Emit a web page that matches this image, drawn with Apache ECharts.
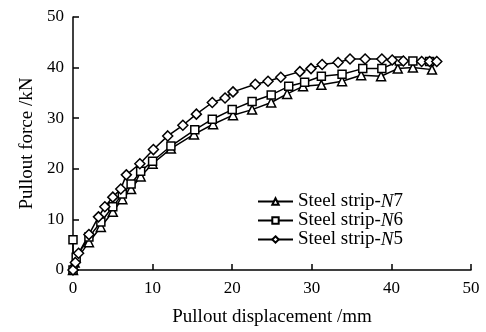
<!DOCTYPE html>
<html><head><meta charset="utf-8">
<script src="https://cdn.jsdelivr.net/npm/echarts@6/dist/echarts.min.js"></script>
<style>html,body{margin:0;padding:0;background:#fff}#c{width:486px;height:332px}</style>
</head><body><div id="c"></div>
<script>
var n7x=[0,0.2,2,3.5,5,6.2,7.3,8.5,10,12.3,15.2,17.6,20.1,22.5,24.9,26.9,28.9,31.2,33.8,36.2,38.7,40.8,42.7,45.1];
var n7y=[0,1.5,5.5,8.5,11.5,14,16,18.5,21,24,26.8,28.8,30.6,31.7,33.1,34.8,36.3,36.6,37.3,38.5,38.3,39.8,40,39.6];
var n6x=[0,0,0.4,2,3.5,5,6.2,7.3,8.5,10,12.3,15.3,17.5,20,22.5,24.9,27.1,29.1,31.2,33.8,36.4,38.8,41,42.7,44.8];
var n6y=[6,0,2.5,6.5,9.5,12.5,15,17,19.5,21.5,24.5,27.7,29.8,31.7,33.3,34.6,36.3,37.1,38.3,38.7,39.8,39.8,41.3,41.3,41.2];
var n5x=[0,0.3,0.7,2,3.2,4,5,6,6.7,8.4,10.1,11.9,13.8,15.5,17.5,19.1,20.1,22.9,24.5,26.1,28.5,29.9,31.3,33.3,34.8,36.7,38.8,40.1,41.5,43.8,44.8,45.7];
var n5y=[0,1.5,3.3,7,10.5,12.5,14.4,16,18.8,21,23.8,26.5,28.6,30.8,33.1,34,35.2,36.7,37.3,38.1,39.2,39.8,40.6,41,41.7,41.7,41.7,41.5,41.3,41.2,41.2,41.2];
var names=['Steel strip-N7','Steel strip-N6','Steel strip-N5'];
var xTicks=[0,10,20,30,40,50];
var yTicks=[0,10,20,30,40,50];

function pairs(xs,ys){return xs.map(function(x,i){return [x,ys[i]];});}
var font='"Liberation Serif","Times New Roman",serif';
function mk(name,xs,ys,sym,sz){
  return {name:name,type:'line',data:pairs(xs,ys),symbol:sym,symbolSize:sz,
    showAllSymbol:true,
    lineStyle:{color:'#000',width:1.5},
    itemStyle:{color:'#fff',borderColor:'#000',borderWidth:1.5},
    emphasis:{disabled:true},animation:false};
}
var chart=echarts.init(document.getElementById('c'),null,{renderer:'canvas'});
chart.setOption({
  animation:false,
  grid:{left:73,right:15,top:17,bottom:55},
  legend:{orient:'vertical',left:257,top:192,padding:0,itemGap:0,itemWidth:35,itemHeight:8,
    data:names,
    formatter:function(n){var p=n.split('-');return p[0]+'-{i|'+p[1].charAt(0)+'}'+p[1].slice(1);},
    textStyle:{fontFamily:font,fontSize:19,lineHeight:18,color:'#000',
      rich:{i:{fontFamily:font,fontSize:19,lineHeight:18,fontStyle:'italic',color:'#000'}}}},
  xAxis:{type:'value',min:0,max:50,interval:10,
    name:'Pullout displacement /mm',nameLocation:'middle',nameGap:38,
    nameTextStyle:{fontFamily:font,fontSize:19,color:'#000'},
    axisLine:{lineStyle:{color:'#000',width:1.5}},
    axisTick:{inside:true,length:6,lineStyle:{color:'#000',width:1.5}},
    axisLabel:{fontFamily:font,fontSize:17,color:'#000',margin:10},
    splitLine:{show:false}},
  yAxis:{type:'value',min:0,max:50,interval:10,
    name:'Pullout force /kN',nameLocation:'middle',nameGap:34,nameRotate:90,
    nameTextStyle:{fontFamily:font,fontSize:19,color:'#000'},
    axisLine:{show:true,lineStyle:{color:'#000',width:1.5}},
    axisTick:{show:true,inside:true,length:6,lineStyle:{color:'#000',width:1.5}},
    axisLabel:{fontFamily:font,fontSize:17,color:'#000',margin:9},
    splitLine:{show:false}},
  series:[mk(names[0],n7x,n7y,'triangle',9),mk(names[1],n6x,n6y,'rect',8),mk(names[2],n5x,n5y,'diamond',10)]
});
</script></body></html>
